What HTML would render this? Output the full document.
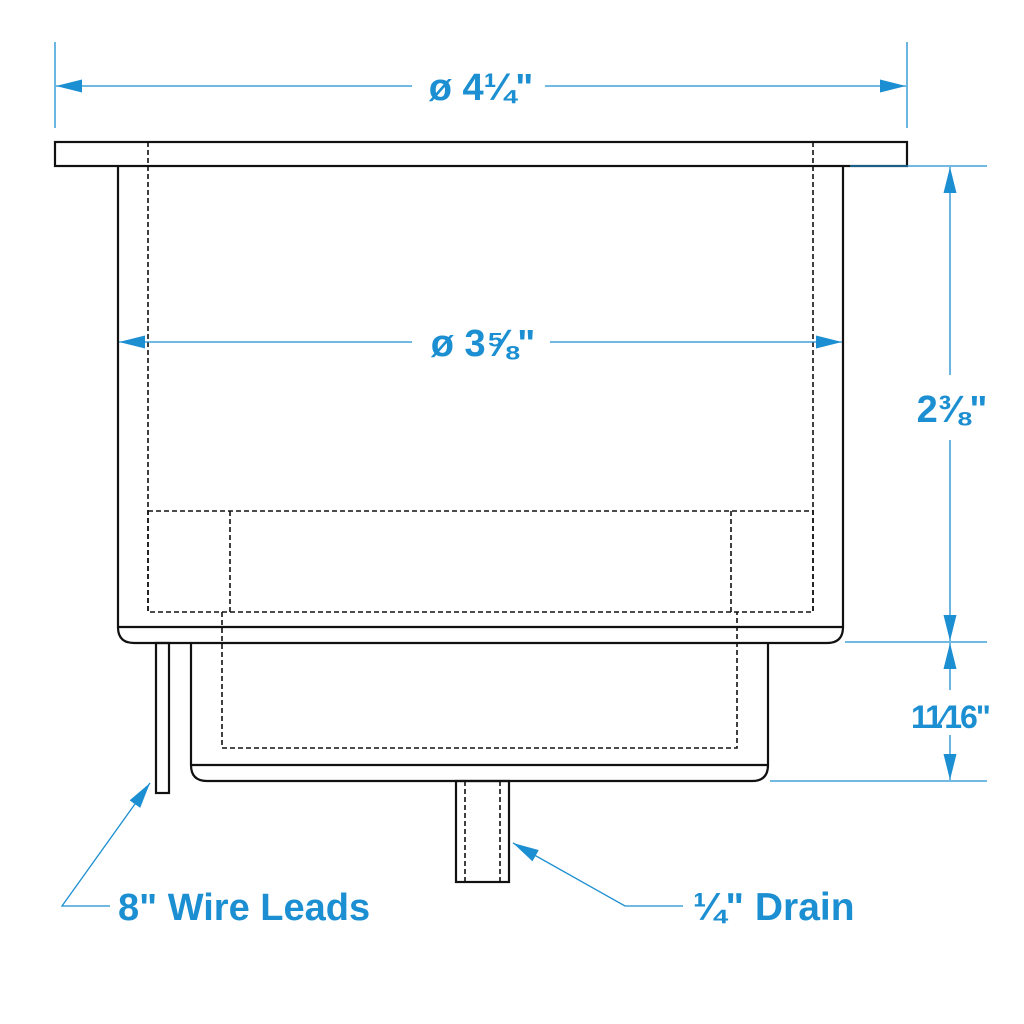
<!DOCTYPE html>
<html><head><style>body{margin:0;background:#fff}svg{display:block}text{font-family:"Liberation Sans",sans-serif;font-weight:bold;fill:#1b8fd1}</style></head><body>
<svg width="1024" height="1024" viewBox="0 0 1024 1024" xmlns="http://www.w3.org/2000/svg">
<defs>
<marker id="b" viewBox="0 0 10 10" refX="10" refY="5" markerWidth="26" markerHeight="13" markerUnits="userSpaceOnUse" orient="auto-start-reverse" preserveAspectRatio="none"><path d="M0,0 L10,5 L0,10 z" fill="#1b8fd1"/></marker>
</defs>
<g fill="none" stroke="#111" stroke-width="2.2">
<rect x="55" y="142" width="852" height="24" fill="#fff"/>
<path d="M118,166 V627 Q118,643 134,643 H827 Q843,643 843,627 V166"/>
<line x1="118" y1="627" x2="843" y2="627"/>
<path d="M191,643 V765 Q191,781 207,781 H752 Q768,781 768,765 V643"/>
<line x1="191" y1="765" x2="768" y2="765"/>
<rect x="156" y="643" width="13" height="150"/>
<rect x="456" y="781" width="53" height="101"/>
</g>
<g fill="none" stroke="#111" stroke-width="1.6" stroke-dasharray="5,3">
<line x1="148" y1="142" x2="148" y2="612"/>
<line x1="813" y1="142" x2="813" y2="612"/>
<rect x="148" y="511" width="665" height="101"/>
<line x1="230" y1="511" x2="230" y2="612"/>
<line x1="731" y1="511" x2="731" y2="612"/>
<path d="M222,612 V748 H737 V612"/>
<line x1="465" y1="781" x2="465" y2="882"/>
<line x1="500" y1="781" x2="500" y2="882"/>
</g>
<g stroke="#1b8fd1" stroke-width="1.3" fill="none">
<line x1="55" y1="42" x2="55" y2="128"/>
<line x1="907" y1="42" x2="907" y2="128"/>
<line x1="56" y1="86" x2="412" y2="86" marker-start="url(#b)"/>
<line x1="545" y1="86" x2="906" y2="86" marker-end="url(#b)"/>
<line x1="119" y1="342" x2="412" y2="342" marker-start="url(#b)"/>
<line x1="550" y1="342" x2="842" y2="342" marker-end="url(#b)"/>
<line x1="850" y1="166" x2="987" y2="166"/>
<line x1="845" y1="642" x2="987" y2="642"/>
<line x1="770" y1="781" x2="987" y2="781"/>
<line x1="950" y1="167" x2="950" y2="375" marker-start="url(#b)"/>
<line x1="950" y1="440" x2="950" y2="641" marker-end="url(#b)"/>
<line x1="950" y1="643" x2="950" y2="690" marker-start="url(#b)"/>
<line x1="950" y1="735" x2="950" y2="780" marker-end="url(#b)"/>
<path d="M110,906 H62 L150,783" marker-end="url(#b)"/>
<path d="M683,906 H625 L513,843" marker-end="url(#b)"/>
</g>
<text x="481" y="100" font-size="38" text-anchor="middle">ø 4¼"</text>
<text x="483" y="356" font-size="38" text-anchor="middle">ø 3⅝"</text>
<text x="952" y="422" font-size="38" text-anchor="middle">2⅜"</text>
<text x="950" y="728" font-size="32" text-anchor="middle" letter-spacing="-2">11⁄16"</text>
<text x="118" y="920" font-size="38">8" Wire Leads</text>
<text x="693" y="920" font-size="39">¼" Drain</text>
</svg>
</body></html>
